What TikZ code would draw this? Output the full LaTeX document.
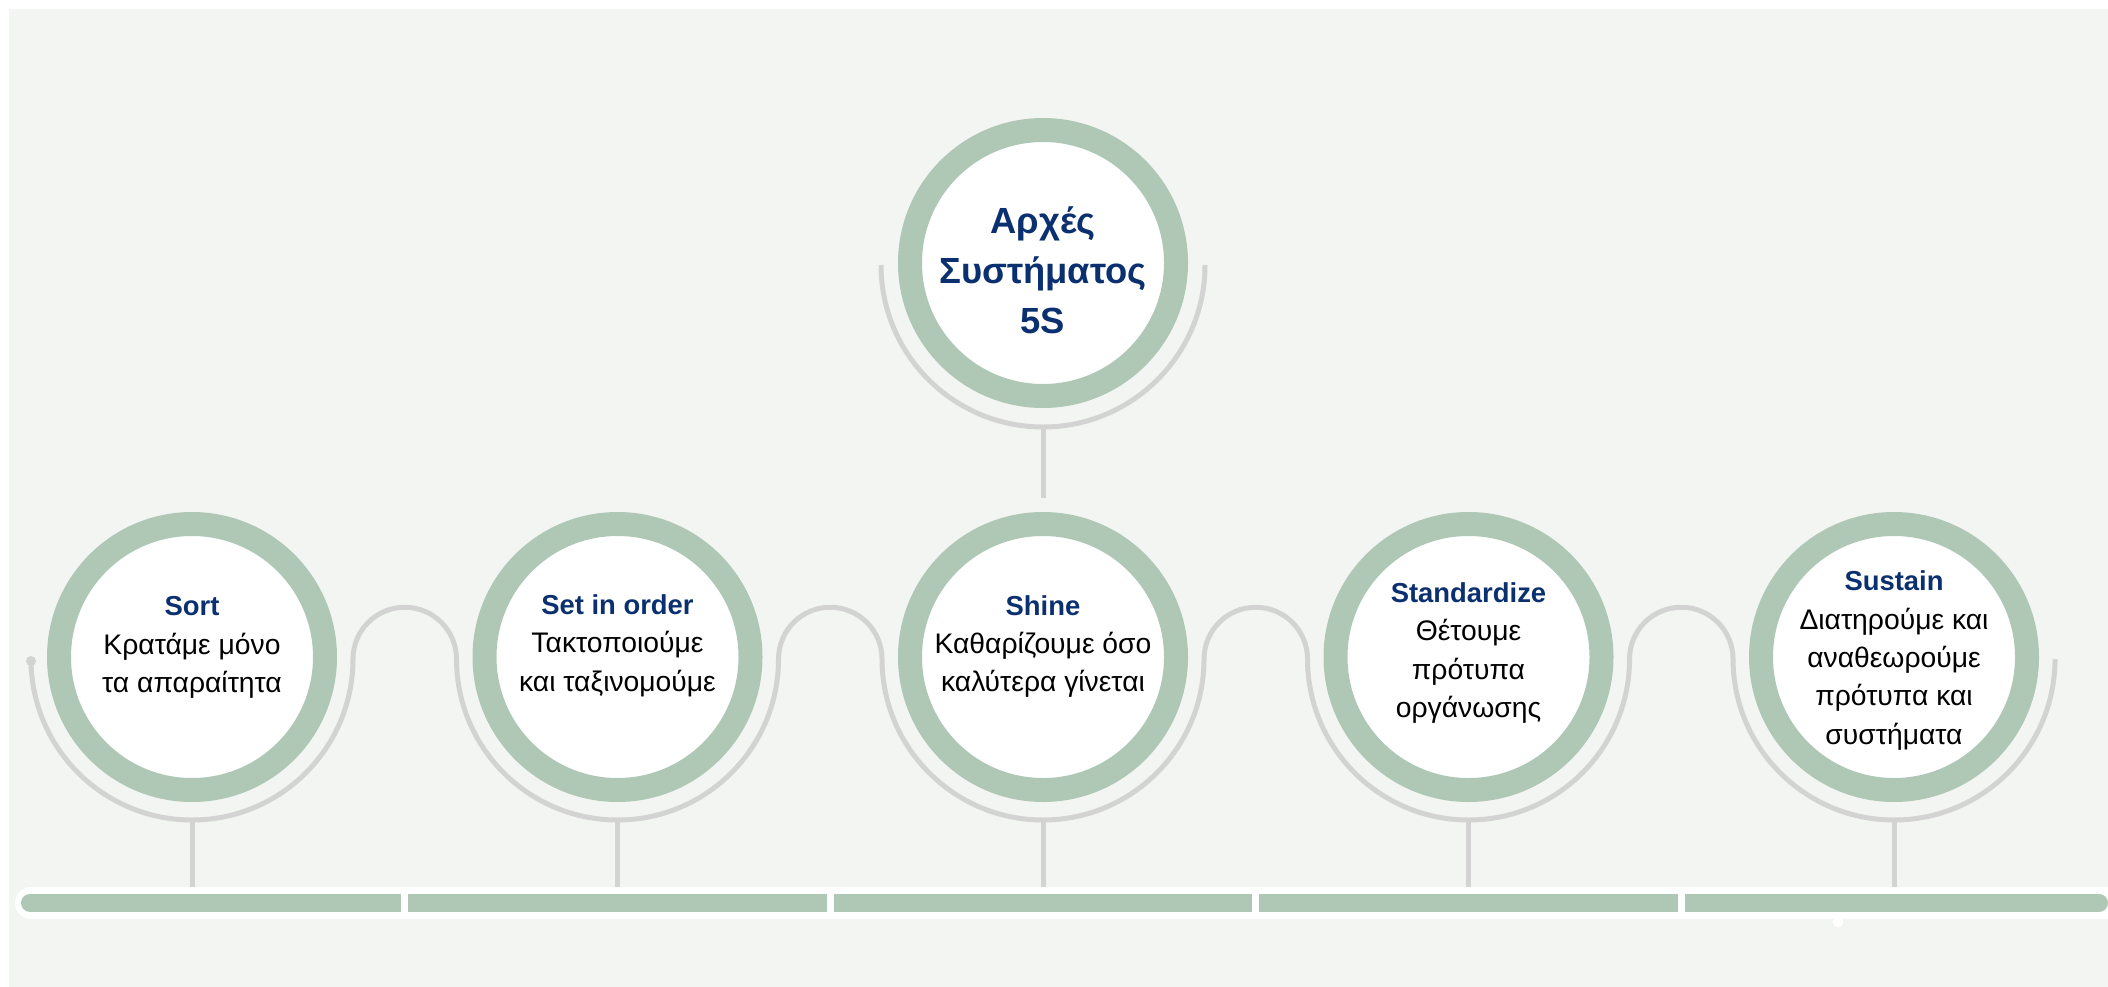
\documentclass[tikz,border=0pt]{standalone}
\usepackage{fontspec}
\setmainfont{Liberation Sans}
\usepackage{xcolor}
\usepackage{tikz}
\usetikzlibrary{calc,positioning}
\definecolor{panelc}{HTML}{F3F5F2}
\definecolor{ringc}{HTML}{AFC8B6}
\definecolor{linec}{HTML}{D3D3D3}
\definecolor{headc}{HTML}{0B3070}
\tikzset{
  ring/.style={circle,draw=ringc,line width=4.8mm,fill=white,minimum size=53.2mm,inner sep=0pt},
  lnk/.style={linec,line width=1mm},
  txt/.style={align=center,inner sep=0pt,font=\fontsize{16.1}{21.9}\selectfont}
}
\newcommand{\hdline}[1]{{\fontsize{15.6}{21.9}\selectfont\bfseries\color{headc}#1}}

\begin{document}
\begin{tikzpicture}[x=0.2mm,y=0.2mm]
\useasboundingbox (0,0) rectangle (2108,-987);
\fill[panelc] (9,-9) rectangle (2108,-987);
% grey guide lines
\draw[lnk] (31,-659) arc[start angle=180,end angle=360,radius=32.2mm]
  arc[start angle=180,end angle=0,radius=10.35mm]
  arc[start angle=180,end angle=360,radius=32.2mm]
  arc[start angle=180,end angle=0,radius=10.35mm]
  arc[start angle=180,end angle=360,radius=32.2mm]
  arc[start angle=180,end angle=0,radius=10.35mm]
  arc[start angle=180,end angle=360,radius=32.2mm]
  arc[start angle=180,end angle=0,radius=10.35mm]
  arc[start angle=180,end angle=360,radius=32.2mm];
\fill[linec] (31,-661) circle (1mm);
\draw[lnk] (881,-265) arc[start angle=180,end angle=360,radius=32.4mm];
\coordinate (tk) at (1043,-427);
\coordinate (tb) at (1043,-498);
\draw[lnk] (tk) -- (tb);
\foreach \i/\x in {1/192,2/617.5,3/1043,4/1468.5,5/1894}{
  \coordinate (k\i) at (\x,-820);
  \coordinate (b\i) at (\x,-892);
  \draw[lnk] (k\i) -- (b\i);
}
% base bar
\draw[white,line width=6.4mm,line cap=round] (31,-903) -- (2140,-903);
\draw[ringc,line width=3.6mm,line cap=round] (30,-903) -- (2099,-903);
\foreach \x in {404.75,830.25,1255.75,1681.25}
  \draw[white,line width=1.4mm] (\x,-892) -- (\x,-914);
\fill[white] (1838,-922) circle (1.1mm);
% circles
\node[ring] (top) at (1043,-263) {};
\node[ring] (c1) at (192,-657) {};
\node[ring] (c2) at (617.5,-657) {};
\node[ring] (c3) at (1043,-657) {};
\node[ring] (c4) at (1468.5,-657) {};
\node[ring] (c5) at (1894,-657) {};
% texts
\node[txt,font=\fontsize{20.7}{28.5}\selectfont\bfseries,text=headc] (tt) at (1043,-270) {Αρχές\\Συστήματος\\5S};
\node[txt] (t1) at (192,-647.5) {\hdline{Sort}\\Κρατάμε μόνο\\τα απαραίτητα};
\node[txt] (t2) at (617.5,-645.5) {\hdline{Set in order}\\Τακτοποιούμε\\και ταξινομούμε};
\node[txt] (t3) at (1043,-646.5) {\hdline{Shine}\\Καθαρίζουμε όσο\\καλύτερα γίνεται};
\node[txt] (t4) at (1468.5,-653) {\hdline{Standardize}\\Θέτουμε\\πρότυπα\\οργάνωσης};
\node[txt] (t5) at (1894,-660.5) {\hdline{Sustain}\\Διατηρούμε και\\αναθεωρούμε\\πρότυπα και\\συστήματα};
\end{tikzpicture}
\end{document}
